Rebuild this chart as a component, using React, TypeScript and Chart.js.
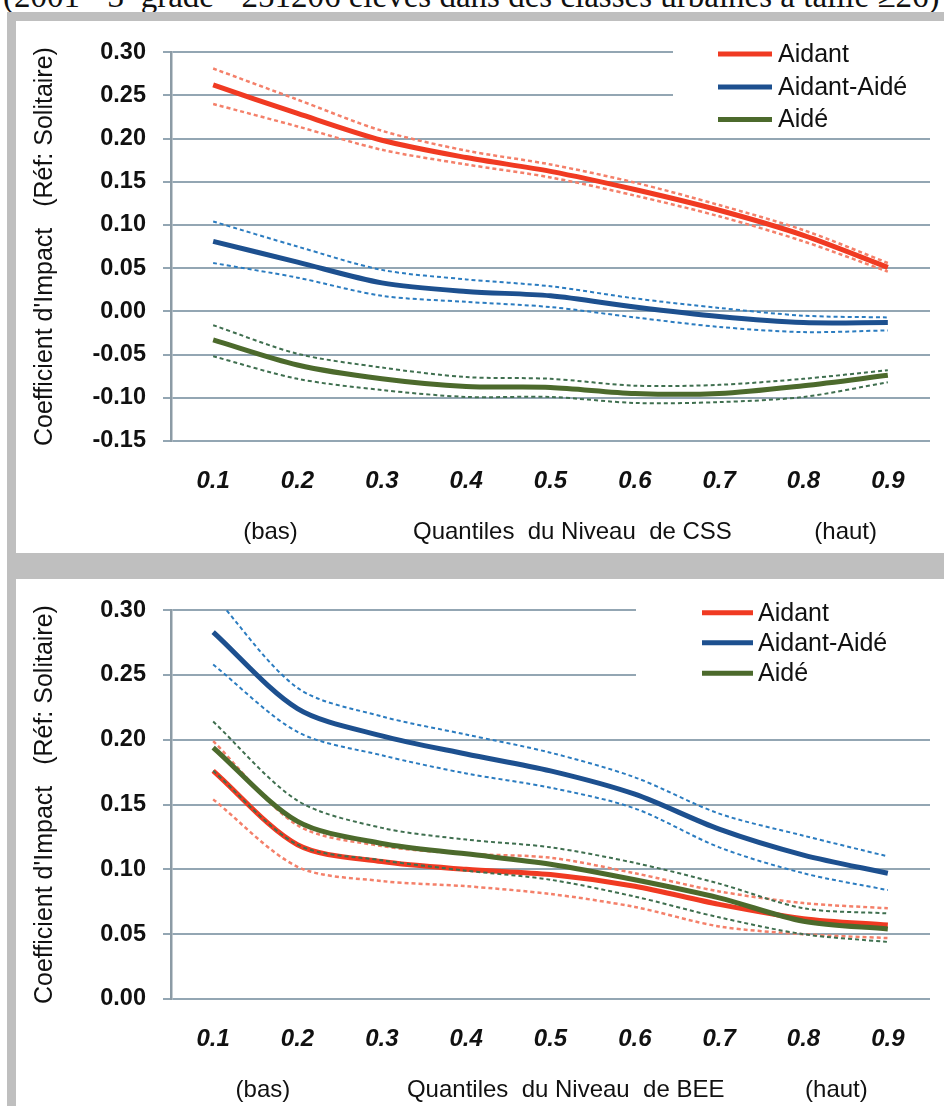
import React, { useEffect, useRef } from 'react';
import { Chart, registerables } from 'chart.js';

Chart.register(...registerables);

// ---------- data ----------
const quantiles = ['0.1', '0.2', '0.3', '0.4', '0.5', '0.6', '0.7', '0.8', '0.9'];
const seriesNames = ['Aidant', 'Aidant-Aidé', 'Aidé'];

const yTicksCSS = [-0.15, -0.1, -0.05, 0, 0.05, 0.1, 0.15, 0.2, 0.25, 0.3];
const yTicksBEE = [0, 0.05, 0.1, 0.15, 0.2, 0.25, 0.3];

const cssNotes = ['(bas)', 'Quantiles  du Niveau  de CSS', '(haut)'];
const beeNotes = ['(bas)', 'Quantiles  du Niveau  de BEE', '(haut)'];

const headerText = '(2001 - 3ᵉ  grade - 251206 élèves dans des classes urbaines à taille ≥26)';
const yTitle = "Coefficient d'Impact   (Réf: Solitaire)";

// CSS panel
const cssAidant = [0.262, 0.229, 0.198, 0.178, 0.162, 0.141, 0.117, 0.088, 0.051];
const cssAidantHi = [0.281, 0.245, 0.209, 0.186, 0.170, 0.149, 0.123, 0.094, 0.056];
const cssAidantLo = [0.240, 0.214, 0.187, 0.170, 0.155, 0.134, 0.110, 0.081, 0.046];
const cssAidantAide = [0.081, 0.057, 0.033, 0.023, 0.018, 0.005, -0.006, -0.013, -0.013];
const cssAidantAideHi = [0.104, 0.075, 0.048, 0.037, 0.029, 0.015, 0.004, -0.005, -0.007];
const cssAidantAideLo = [0.056, 0.039, 0.018, 0.011, 0.005, -0.007, -0.018, -0.024, -0.022];
const cssAide = [-0.033, -0.062, -0.078, -0.087, -0.088, -0.095, -0.095, -0.086, -0.074];
const cssAideHi = [-0.016, -0.049, -0.065, -0.076, -0.078, -0.086, -0.085, -0.078, -0.068];
const cssAideLo = [-0.052, -0.078, -0.091, -0.099, -0.099, -0.106, -0.105, -0.099, -0.082];

// BEE panel
const beeAidant = [0.176, 0.119, 0.106, 0.100, 0.096, 0.087, 0.073, 0.062, 0.057];
const beeAidantHi = [0.199, 0.134, 0.118, 0.112, 0.109, 0.097, 0.083, 0.074, 0.070];
const beeAidantLo = [0.154, 0.102, 0.091, 0.087, 0.081, 0.071, 0.056, 0.050, 0.047];
const beeAidantAide = [0.283, 0.224, 0.203, 0.189, 0.176, 0.158, 0.131, 0.111, 0.097];
const beeAidantAideHi = [0.312, 0.240, 0.218, 0.204, 0.190, 0.171, 0.143, 0.126, 0.110];
const beeAidantAideLo = [0.258, 0.206, 0.188, 0.174, 0.163, 0.147, 0.117, 0.097, 0.084];
const beeAide = [0.194, 0.137, 0.120, 0.112, 0.104, 0.092, 0.078, 0.060, 0.054];
const beeAideHi = [0.214, 0.153, 0.132, 0.123, 0.117, 0.105, 0.089, 0.070, 0.066];
const beeAideLo = [0.176, 0.119, 0.107, 0.099, 0.092, 0.079, 0.063, 0.050, 0.044];

// ---------- styles ----------
const FONT = "'Liberation Sans', Arial, sans-serif";
const mainColors = ['#f03a22', '#1d508f', '#4c6a2c'];
const ciColors = ['#f4806a', '#2b7cc0', '#3f6f4f'];
const GRID = '#93a6b3';
const FRAME = '#bfbfbf';

const W = 928;

function buildDatasets(groups: number[][][]) {
  const ds: any[] = [];
  let idx = 0;
  groups.forEach((g, s) => {
    const [main, hi, lo] = g;
    ds.push({
      label: seriesNames[s], data: main, borderColor: mainColors[s], borderWidth: 5,
      pointRadius: 0, tension: 0.3, fill: false, order: 20 - idx++,
    });
    ds.push({
      label: seriesNames[s] + ' +', data: hi, borderColor: ciColors[s], borderWidth: s === 0 ? 2.5 : 2,
      borderDash: [4, 3], pointRadius: 0, tension: 0.3, fill: false, order: 20 - idx++,
    });
    ds.push({
      label: seriesNames[s] + ' -', data: lo, borderColor: ciColors[s], borderWidth: s === 0 ? 2.5 : 2,
      borderDash: [4, 3], pointRadius: 0, tension: 0.3, fill: false, order: 20 - idx++,
    });
  });
  return ds;
}

const overlayPlugin = {
  id: 'overlay',
  beforeDatasetsDraw(chart: any, _a: any, opts: any) {
    const { ctx } = chart;
    const [bx, by, bw, bh] = opts.box;
    ctx.save();
    ctx.fillStyle = '#ffffff';
    ctx.fillRect(bx, by, bw, bh);
    ctx.restore();
  },
  afterDraw(chart: any, _a: any, opts: any) {
    const { ctx } = chart;
    const xs = chart.scales.x;
    ctx.save();
    // legend
    ctx.font = `25px ${FONT}`;
    ctx.textBaseline = 'middle';
    ctx.textAlign = 'left';
    seriesNames.forEach((name, i) => {
      const y = opts.legendRows[i];
      ctx.strokeStyle = mainColors[i];
      ctx.lineWidth = 5;
      ctx.beginPath();
      ctx.moveTo(opts.legendLine[0], y);
      ctx.lineTo(opts.legendLine[1], y);
      ctx.stroke();
      ctx.fillStyle = '#111';
      ctx.fillText(name, opts.legendText, y + 1);
    });
    // axis notes
    ctx.font = `24px ${FONT}`;
    ctx.textAlign = 'center';
    ctx.fillStyle = '#111';
    opts.notes.forEach((t: string, i: number) => {
      ctx.fillText(t, xs.getPixelForValue(opts.notePos[i]), opts.noteY);
    });
    ctx.restore();
  },
};

function makeConfig(p: any) {
  return {
    type: 'line',
    data: { labels: quantiles, datasets: buildDatasets(p.groups) },
    plugins: [overlayPlugin],
    options: {
      responsive: false,
      animation: false,
      events: [],
      layout: { padding: { top: p.top, right: 14, left: 0, bottom: 0 } },
      plugins: {
        legend: { display: false },
        tooltip: { enabled: false },
        overlay: {
          box: p.box, legendRows: p.legendRows, legendLine: p.legendLine, legendText: p.legendText,
          notes: p.notes, notePos: p.notePos, noteY: 511,
        },
      },
      scales: {
        x: {
          type: 'category',
          offset: true,
          grid: { display: false, drawTicks: false },
          border: { display: false },
          ticks: {
            font: { family: FONT, size: 24, weight: 'bold', style: 'italic' },
            color: '#111', padding: 26, maxRotation: 0, autoSkip: false,
          },
          afterFit: (s: any) => { s.height = p.h - 420; },
        },
        y: {
          min: p.min, max: 0.3,
          afterBuildTicks: (s: any) => { s.ticks = p.ticks.map((v: number) => ({ value: v })); },
          grid: { color: GRID, lineWidth: 2, tickLength: 8, drawTicks: true },
          border: { display: true, color: '#8c9ba5', width: 2.5 },
          ticks: {
            font: { family: FONT, size: 23.5, weight: 'bold' },
            color: '#111', padding: 17,
            callback: (v: any) => Number(v).toFixed(2),
          },
          title: {
            display: true, text: yTitle, color: '#111',
            font: { family: FONT, size: 25 }, padding: { top: 14, bottom: 0 },
          },
          afterFit: (s: any) => { s.width = 155; },
        },
      },
    },
  };
}

function Panel({ cfg, top, h }: { cfg: any; top: number; h: number }) {
  const ref = useRef<HTMLCanvasElement>(null);
  useEffect(() => {
    const chart = new Chart(ref.current as HTMLCanvasElement, cfg);
    return () => chart.destroy();
  }, []);
  return (
    <canvas
      ref={ref}
      width={W}
      height={h}
      style={{ position: 'absolute', left: 16, top, width: W, height: h, background: '#fff' }}
    />
  );
}

const cssCfg = makeConfig({
  groups: [
    [cssAidant, cssAidantHi, cssAidantLo],
    [cssAidantAide, cssAidantAideHi, cssAidantAideLo],
    [cssAide, cssAideHi, cssAideLo],
  ],
  h: 532, top: 28, min: -0.15, ticks: yTicksCSS,
  box: [657, 7, 262, 104],
  legendRows: [33, 66, 98.5], legendLine: [702, 756], legendText: 762,
  notes: cssNotes, notePos: [0.68, 4.26, 7.5],
});

const beeCfg = makeConfig({
  groups: [
    [beeAidant, beeAidantHi, beeAidantLo],
    [beeAidantAide, beeAidantAideHi, beeAidantAideLo],
    [beeAide, beeAideHi, beeAideLo],
  ],
  h: 527, top: 29, min: 0, ticks: yTicksBEE,
  box: [620, 12, 299, 112],
  legendRows: [33.7, 63.7, 94.3], legendLine: [686, 737], legendText: 742,
  notes: beeNotes, notePos: [0.59, 4.18, 7.39],
});

export default function App() {
  return (
    <div style={{ position: 'absolute', left: 0, top: 0, width: 944, height: 1106, background: '#fff', overflow: 'hidden' }}>
      <div
        style={{
          position: 'absolute', left: 3, top: -20, fontFamily: "'Liberation Serif', serif",
          fontSize: 33, lineHeight: '33px', whiteSpace: 'nowrap', color: '#111',
        }}
      >
        {headerText}
      </div>
      <div style={{ position: 'absolute', left: 7, top: 12, width: 937, height: 9, background: FRAME }} />
      <div style={{ position: 'absolute', left: 7, top: 12, width: 9, height: 1094, background: FRAME }} />
      <div style={{ position: 'absolute', left: 7, top: 553, width: 937, height: 26, background: FRAME }} />
      <Panel cfg={cssCfg} top={21} h={532} />
      <Panel cfg={beeCfg} top={579} h={527} />
    </div>
  );
}
